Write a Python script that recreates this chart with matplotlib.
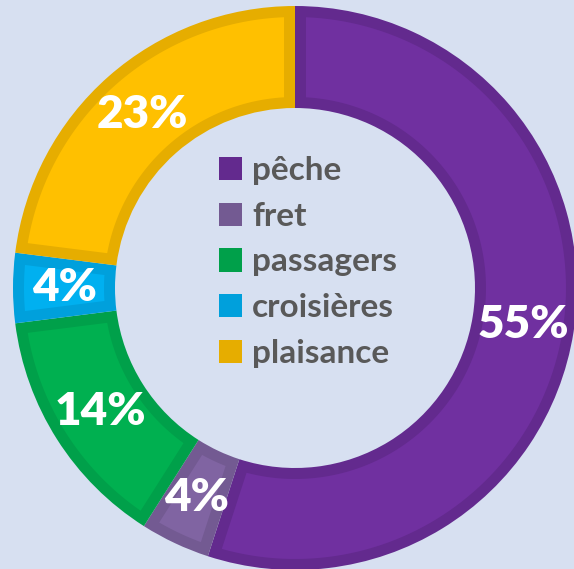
import numpy as np
import matplotlib
matplotlib.use('Agg')
import matplotlib.pyplot as plt
from matplotlib.patches import Patch, Polygon

# data
labels = ['pêche', 'fret', 'passagers', 'croisières', 'plaisance']
shares = [55, 4, 14, 4, 23]
fill_colors = ['#7030A0', '#8064A2', '#00B050', '#00B0F0', '#FFC000']
edge_colors = ['#632A8E', '#735A92', '#00A04A', '#00A0DC', '#E6AD00']

bg = '#D7E0F1'
W, H = 574, 569

fig = plt.figure(figsize=(W / 100, H / 100), dpi=100)
fig.patch.set_facecolor(bg)
ax = fig.add_axes([0, 0, 1, 1])
ax.set_facecolor(bg)

cx, cy = 295, H - 288
r_out, ring = 282, 102
border = 11  # inner border width of each slice (px)

wedges, _, pcts = ax.pie(
    shares, radius=r_out, center=(cx, cy), startangle=90, counterclock=False,
    colors=edge_colors, autopct=lambda p: '{:.0f}%'.format(p),
    pctdistance=(r_out - ring / 2) / r_out,
    wedgeprops=dict(width=ring, linewidth=0),
    textprops=dict(color='white', fontsize=33, fontweight='heavy', family='Lato'))


def inset_points(w, b):
    # annular sector shrunk by b on every side
    R = w.r - b
    r = w.r - w.width + b
    t1, t2 = np.radians(w.theta1), np.radians(w.theta2)
    aR, ar = np.arcsin(b / R), np.arcsin(b / r)
    outer = np.linspace(t1 + aR, t2 - aR, 120)
    inner = np.linspace(t2 - ar, t1 + ar, 120)
    xs = np.concatenate([R * np.cos(outer), r * np.cos(inner)]) + w.center[0]
    ys = np.concatenate([R * np.sin(outer), r * np.sin(inner)]) + w.center[1]
    return np.column_stack([xs, ys])


for w, fc in zip(wedges, fill_colors):
    ax.add_patch(Polygon(inset_points(w, border), closed=True, facecolor=fc,
                         edgecolor='none', zorder=1.5))

ax.set_xlim(0, W)
ax.set_ylim(0, H)
ax.set_aspect('equal')
ax.axis('off')

handles = [Patch(facecolor=c, edgecolor='none') for c in edge_colors]
leg = ax.legend(handles, labels, loc='center', bbox_to_anchor=(308 / W, 1 - 262 / H),
                frameon=False, prop=dict(family='Lato', weight='bold', size=24),
                handlelength=0.7, handleheight=0.7, handletextpad=0.3,
                labelspacing=0.5)
for t in leg.get_texts():
    t.set_color('#595959')

plt.savefig('out.png', dpi=100, facecolor=bg)
